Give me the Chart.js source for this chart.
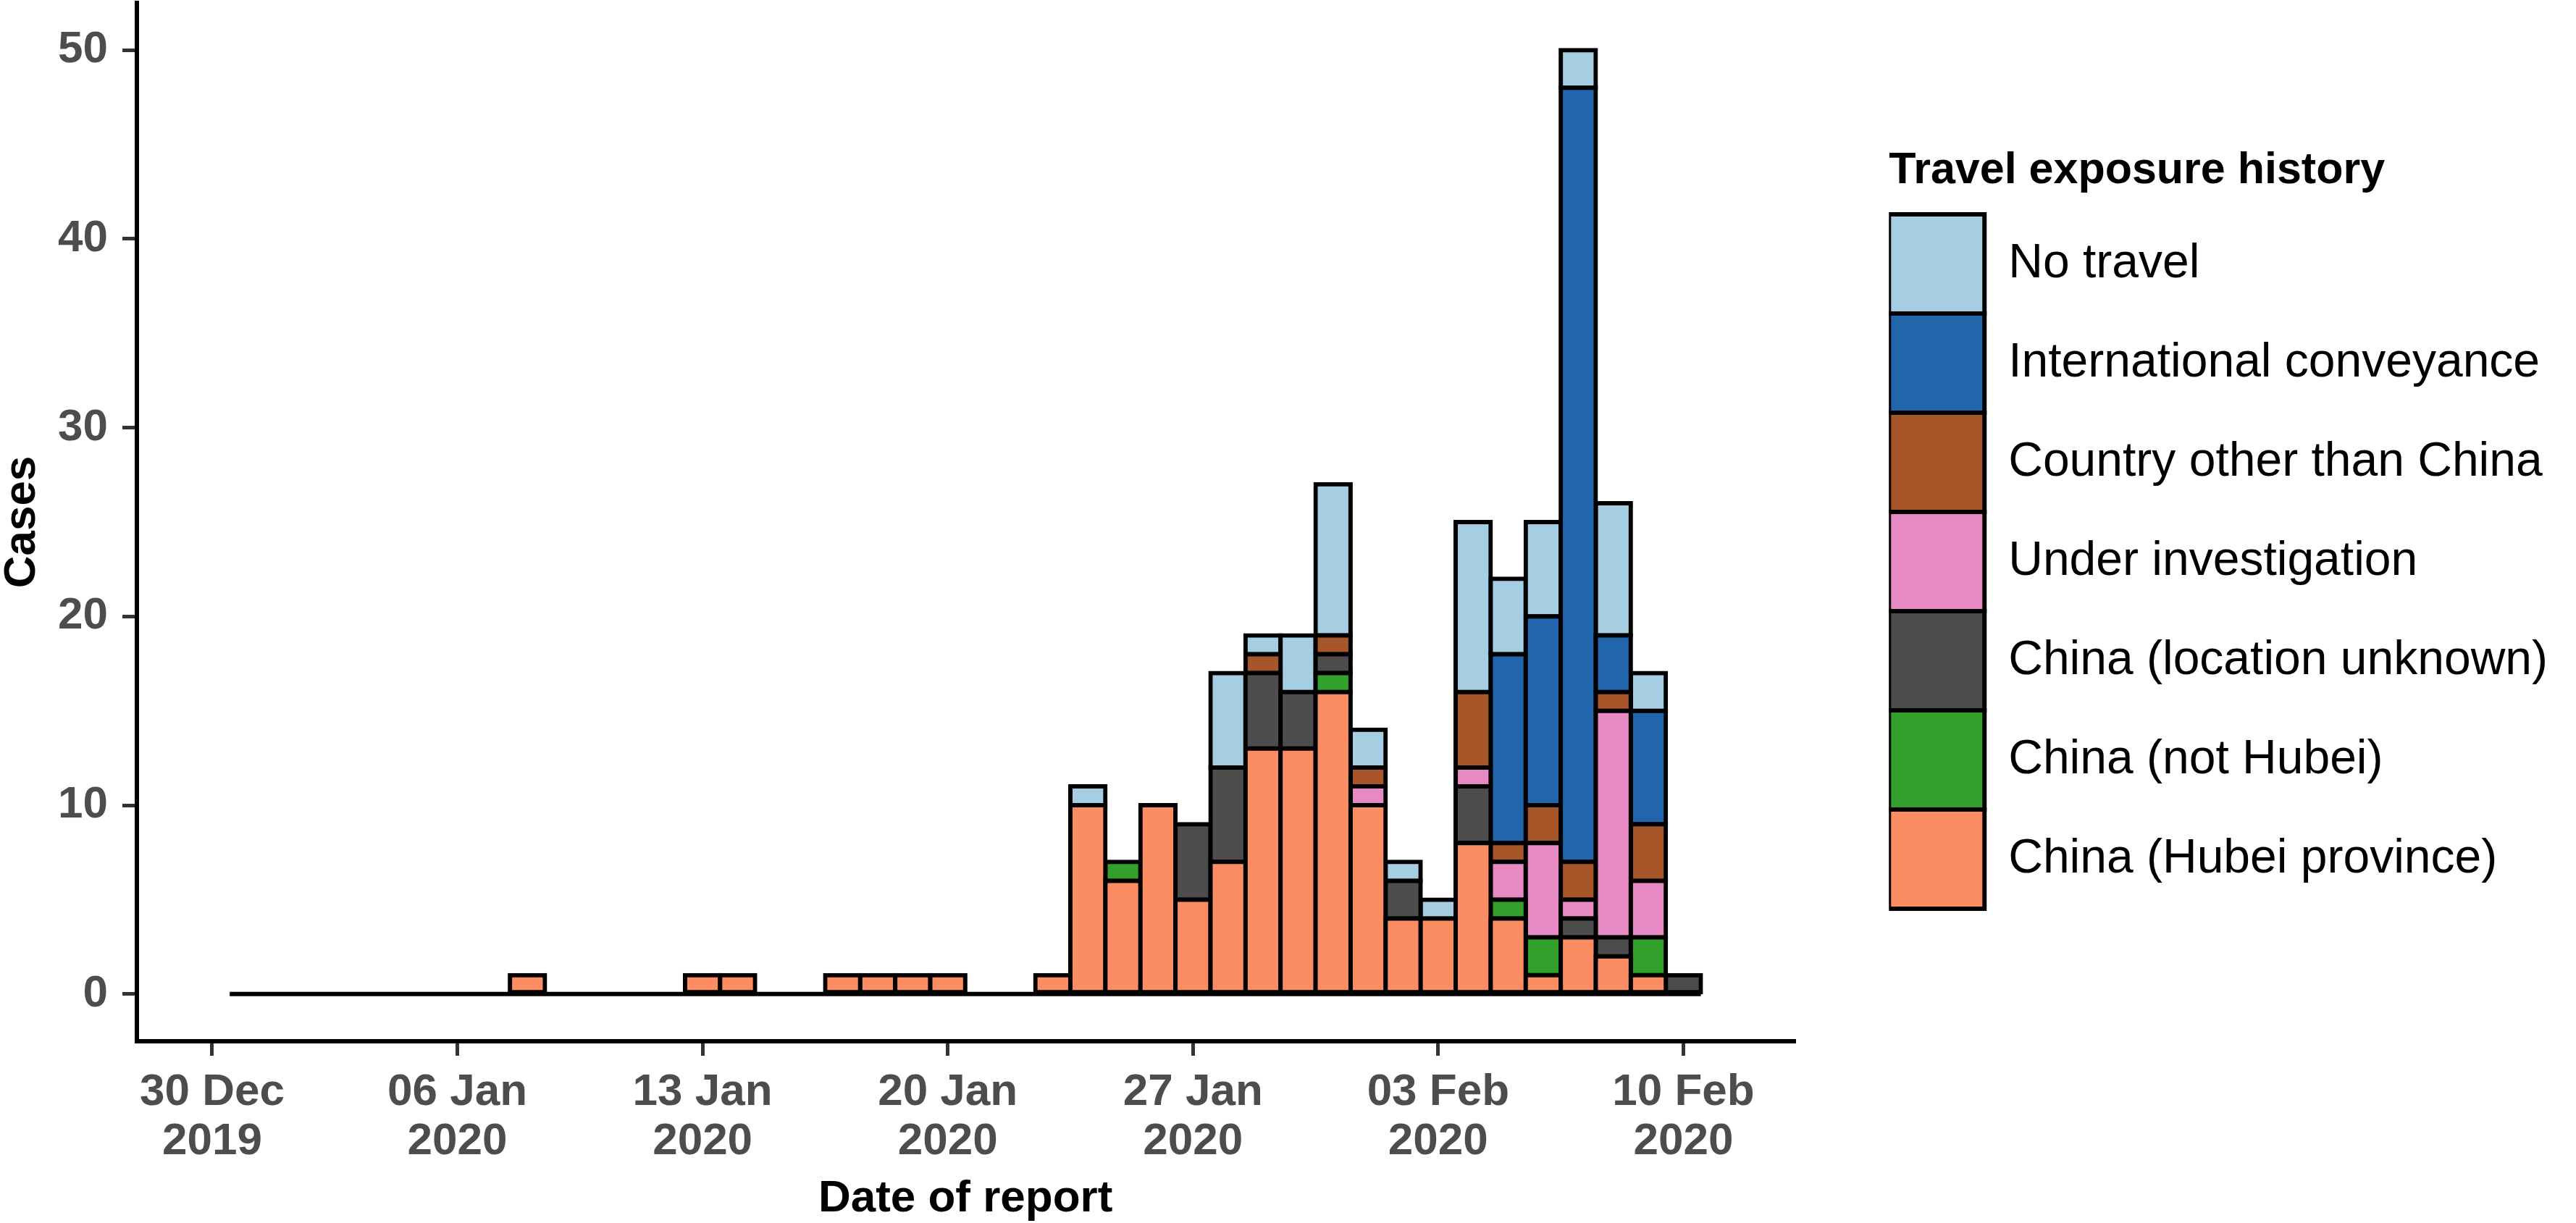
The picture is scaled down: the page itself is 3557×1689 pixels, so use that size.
<!DOCTYPE html>
<html>
<head>
<meta charset="utf-8">
<script src="https://cdn.jsdelivr.net/npm/chart.js@4.4.0/dist/chart.umd.min.js"></script>
<style>
    html, body { margin: 0; padding: 0; background: #fff; }
    #cadre { width: 3557px; height: 1689px; }
</style>
</head>
<body>
<div id="cadre"><canvas id="graphique-cas"></canvas></div>
<script>
// Dates de report (31 Dec 2019 -> 10 Feb 2020)
const dates = [
    "2019-12-31", "2020-01-01", "2020-01-02", "2020-01-03", "2020-01-04", "2020-01-05", "2020-01-06",
    "2020-01-07", "2020-01-08", "2020-01-09", "2020-01-10", "2020-01-11", "2020-01-12", "2020-01-13",
    "2020-01-14", "2020-01-15", "2020-01-16", "2020-01-17", "2020-01-18", "2020-01-19", "2020-01-20",
    "2020-01-21", "2020-01-22", "2020-01-23", "2020-01-24", "2020-01-25", "2020-01-26", "2020-01-27",
    "2020-01-28", "2020-01-29", "2020-01-30", "2020-01-31", "2020-02-01", "2020-02-02", "2020-02-03",
    "2020-02-04", "2020-02-05", "2020-02-06", "2020-02-07", "2020-02-08", "2020-02-09", "2020-02-10"
]

// Cas par jour et par exposition (même ordre que dates)
const hubei = [
    0, 0, 0, 0, 0, 0, 0,
    0, 1, 0, 0, 0, 0, 1,
    1, 0, 0, 1, 1, 1, 1,
    0, 0, 1, 10, 6, 10, 5,
    7, 13, 13, 16, 10, 4, 4,
    8, 4, 1, 3, 2, 1, 0
]
const notHubei = [
    0, 0, 0, 0, 0, 0, 0,
    0, 0, 0, 0, 0, 0, 0,
    0, 0, 0, 0, 0, 0, 0,
    0, 0, 0, 0, 1, 0, 0,
    0, 0, 0, 1, 0, 0, 0,
    0, 1, 2, 0, 0, 2, 0
]
const locationUnknown = [
    0, 0, 0, 0, 0, 0, 0,
    0, 0, 0, 0, 0, 0, 0,
    0, 0, 0, 0, 0, 0, 0,
    0, 0, 0, 0, 0, 0, 4,
    5, 4, 3, 1, 0, 2, 0,
    3, 0, 0, 1, 1, 0, 1
]
const underInvestigation = [
    0, 0, 0, 0, 0, 0, 0,
    0, 0, 0, 0, 0, 0, 0,
    0, 0, 0, 0, 0, 0, 0,
    0, 0, 0, 0, 0, 0, 0,
    0, 0, 0, 0, 1, 0, 0,
    1, 2, 5, 1, 12, 3, 0
]
const otherCountry = [
    0, 0, 0, 0, 0, 0, 0,
    0, 0, 0, 0, 0, 0, 0,
    0, 0, 0, 0, 0, 0, 0,
    0, 0, 0, 0, 0, 0, 0,
    0, 1, 0, 1, 1, 0, 0,
    4, 1, 2, 2, 1, 3, 0
]
const conveyance = [
    0, 0, 0, 0, 0, 0, 0,
    0, 0, 0, 0, 0, 0, 0,
    0, 0, 0, 0, 0, 0, 0,
    0, 0, 0, 0, 0, 0, 0,
    0, 0, 0, 0, 0, 0, 0,
    0, 10, 10, 41, 3, 6, 0
]
const noTravel = [
    0, 0, 0, 0, 0, 0, 0,
    0, 0, 0, 0, 0, 0, 0,
    0, 0, 0, 0, 0, 0, 0,
    0, 0, 0, 1, 0, 0, 0,
    5, 1, 3, 8, 2, 1, 1,
    9, 4, 5, 2, 7, 2, 0
]

const seriesNames = [
    "China (Hubei province)", "China (not Hubei)", "China (location unknown)",
    "Under investigation", "Country other than China", "International conveyance", "No travel"
]

// Graduations
const tickDates = ["2019-12-30", "2020-01-06", "2020-01-13", "2020-01-20", "2020-01-27", "2020-02-03", "2020-02-10"]
const tickLabels = [
    ["30 Dec", "2019"], ["06 Jan", "2020"], ["13 Jan", "2020"], ["20 Jan", "2020"],
    ["27 Jan", "2020"], ["03 Feb", "2020"], ["10 Feb", "2020"]
]
const yTicks = [0, 10, 20, 30, 40, 50]

const seriesColors = ["#FC8D62", "#33A02C", "#4D4D4D", "#E78AC3", "#A65628", "#2166AC", "#A6CEE3"]

const origine = Date.UTC(2019, 11, 30)
function jour(d) {
    return (Date.parse(d) - origine) / 86400000
}

Chart.defaults.font.family = "'Liberation Sans', Arial, sans-serif"

const series = [hubei, notHubei, locationUnknown, underInvestigation, otherCountry, conveyance, noTravel]
const datasets = series.map((valeurs, i) => ({
    type: "bar",
    label: seriesNames[i],
    data: valeurs.map((v, j) => ({ x: jour(dates[j]), y: v === 0 ? null : v })),
    backgroundColor: seriesColors[i],
    borderColor: "#000",
    borderWidth: 6,
    borderSkipped: false,
    inflateAmount: 3,
    categoryPercentage: 1,
    barPercentage: 1
}))

// ligne du zéro (barres vides)
datasets.push({
    type: "line",
    label: "",
    data: [
        { x: jour(dates[0]) - 0.5, y: 0 },
        { x: jour(dates[dates.length - 1]) + 0.5, y: 0 }
    ],
    borderColor: "#000",
    borderWidth: 6,
    pointRadius: 0,
    order: 10
})

// la légende de droite dépasse la largeur max prévue par Chart.js
const legendeLarge = {
    id: "legendeLarge",
    beforeLayout(chart) {
        const legende = chart.legend
        if (legende && !legende._large) {
            const update = legende.update.bind(legende)
            legende.update = (w, h, m) => update(Math.max(w, 1000), h, m)
            legende._large = true
        }
    }
}

const config = {
    type: "bar",
    data: { datasets: datasets },
    options: {
        responsive: true,
        maintainAspectRatio: false,
        devicePixelRatio: 1,
        animation: false,
        layout: { padding: { top: 4, right: 29, bottom: 0, left: 0 } },
        scales: {
            x: {
                type: "linear",
                stacked: true,
                offset: false,
                min: -2.15,
                max: 45.16,
                afterBuildTicks: s => { s.ticks = tickDates.map(d => ({ value: jour(d) })) },
                afterFit: s => { s.height = 251; s.paddingLeft = 0; s.paddingRight = 0 },
                grid: { offset: false, drawOnChartArea: false, tickLength: 20, tickColor: "#333", lineWidth: 5 },
                border: { color: "#000", width: 6 },
                ticks: {
                    callback: (v, i) => tickLabels[i],
                    color: "#4D4D4D",
                    padding: 17,
                    autoSkip: false,
                    maxRotation: 0,
                    font: { size: 62, weight: "bold", lineHeight: 1.1 }
                },
                title: {
                    display: true,
                    text: "Date of report",
                    color: "#000",
                    font: { size: 62, weight: "bold", lineHeight: 1 },
                    padding: { top: 0, bottom: 2 }
                }
            },
            y: {
                stacked: true,
                min: -2.5,
                max: 52.5,
                afterBuildTicks: s => { s.ticks = yTicks.map(v => ({ value: v })) },
                afterFit: s => { s.width = 189; s.paddingTop = 0; s.paddingBottom = 0 },
                grid: { drawOnChartArea: false, tickLength: 20, tickColor: "#333", lineWidth: 5 },
                border: { color: "#000", width: 6 },
                ticks: {
                    color: "#4D4D4D",
                    padding: 20,
                    font: { size: 62, weight: "bold" }
                },
                title: {
                    display: true,
                    text: "Cases",
                    color: "#000",
                    font: { size: 62, weight: "bold", lineHeight: 1 },
                    padding: 0
                }
            },
            // espace vide entre le graphique et la légende
            marge: {
                type: "linear",
                position: "right",
                display: true,
                grid: { display: false },
                border: { display: false },
                ticks: { display: false },
                afterFit: s => { s.width = 131; s.paddingTop = 0; s.paddingBottom = 0 }
            }
        },
        plugins: {
            tooltip: { enabled: false },
            legend: {
                position: "right",
                align: "start",
                reverse: true,
                labels: {
                    boxWidth: 132,
                    boxHeight: 137,
                    padding: 0,
                    color: "#000",
                    font: { size: 66 },
                    filter: item => item.text !== ""
                },
                title: {
                    display: true,
                    text: "Travel exposure history",
                    color: "#000",
                    position: "start",
                    font: { size: 61, weight: "bold", lineHeight: 1 },
                    padding: { top: 202, bottom: 29 }
                }
            }
        }
    },
    plugins: [legendeLarge]
}

const graphiqueCas = new Chart(document.querySelector("#graphique-cas"), config)
</script>
</body>
</html>
